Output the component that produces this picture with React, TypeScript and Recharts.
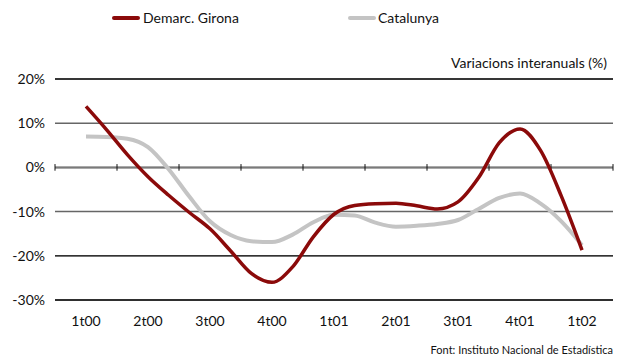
import React from "react";
import {
  LineChart,
  Line,
  XAxis,
  YAxis,
  CartesianGrid,
  ReferenceLine,
  Legend,
} from "recharts";

// Quarter labels along the bottom axis
const quarterLabels = ["1t00", "2t00", "3t00", "4t00", "1t01", "2t01", "3t01", "4t01", "1t02"];

// Monthly year-on-year change (%), from 1t00 to 1t02
const gironaValues = [
  13.8, 8.5, 2.9, -2.1, -6.3, -10.2, -13.9, -18.9, -24.0, -26.0, -22.5, -15.7, -10.6,
  -8.6, -8.2, -8.1, -8.7, -9.4, -7.8, -2.3, 5.6, 8.7, 3.8, -6.5, -18.7,
];
const catalunyaValues = [
  7.0, 6.9, 6.5, 4.6, -0.4, -6.6, -12.2, -15.3, -16.7, -16.9, -15.2, -12.4, -10.7,
  -10.9, -12.5, -13.4, -13.2, -12.8, -11.9, -9.4, -6.9, -5.9, -8.2, -12.2, -17.6,
];

const yTicks = [-30, -20, -10, 0, 10, 20];

// Each quarter spans 3 units on the x scale; points sit one month apart,
// starting in the middle of the first quarter.
const data = gironaValues.map((g, i) => ({
  t: 1.5 + i,
  girona: g,
  catalunya: catalunyaValues[i],
}));

const quarterCenters = quarterLabels.map((_, i) => 1.5 + 3 * i);
const quarterBounds = Array.from({ length: quarterLabels.length + 1 }, (_, i) => 3 * i);

const FONT = "Lato, 'Open Sans', sans-serif";
const RED = "#8B0A0A";
const GREY = "#C4C4C4";
const LEGEND_H = 36;
const X_AXIS_H = 30;

const LegendContent = () => (
  <div style={{ position: "relative", width: 623, height: LEGEND_H, fontFamily: FONT, fontSize: 14, color: "#111" }}>
    <div style={{ position: "absolute", left: 112, top: 16, width: 28, height: 4, background: RED, borderRadius: 2 }} />
    <div style={{ position: "absolute", left: 143, top: 9, lineHeight: "18px" }}>Demarc. Girona</div>
    <div style={{ position: "absolute", left: 348, top: 16, width: 28, height: 4, background: GREY, borderRadius: 2 }} />
    <div style={{ position: "absolute", left: 378, top: 9, lineHeight: "18px" }}>Catalunya</div>
  </div>
);

export default function App() {
  return (
    <div style={{ position: "absolute", left: 0, top: 0, width: 623, height: 358, background: "#fff" }}>
      <LineChart
        width={623}
        height={358}
        data={data}
        margin={{ top: 79 - LEGEND_H, right: 10, bottom: 58 - X_AXIS_H, left: 0 }}
      >
        <Legend
          verticalAlign="top"
          align="left"
          height={LEGEND_H}
          content={<LegendContent />}
          wrapperStyle={{ position: "absolute", top: 0, left: 0, width: 623, height: LEGEND_H }}
        />
        <CartesianGrid vertical={false} stroke="#666" strokeWidth={1.5} />
        <XAxis
          dataKey="t"
          type="number"
          domain={[0, 27]}
          ticks={quarterCenters}
          tickFormatter={(v: number) => quarterLabels[Math.round((v - 1.5) / 3)]}
          height={X_AXIS_H}
          axisLine={false}
          tickLine={false}
          tickSize={0}
          tickMargin={16}
          interval={0}
          tick={{ fill: "#111", fontSize: 14, fontFamily: FONT }}
        />
        <YAxis
          type="number"
          domain={[-30, 20]}
          ticks={yTicks}
          tickFormatter={(v: number) => `${v}%`}
          width={55}
          axisLine={false}
          tickLine={false}
          tickSize={0}
          tickMargin={10}
          interval={0}
          tick={{ fill: "#111", fontSize: 14, fontFamily: FONT }}
        />
        <ReferenceLine y={20} stroke="#1a1a1a" strokeWidth={1.5} />
        <ReferenceLine y={-20} stroke="#333" strokeWidth={1.5} />
        <ReferenceLine y={-30} stroke="#111" strokeWidth={1.5} />
        <ReferenceLine y={0} stroke="#7a7a7a" strokeWidth={2} />
        {quarterBounds.map((b) => (
          <ReferenceLine
            key={b}
            segment={[
              { x: b, y: -0.75 },
              { x: b, y: 0.75 },
            ]}
            stroke="#111"
            strokeWidth={1}
          />
        ))}
        <Line
          type="monotone"
          dataKey="catalunya"
          stroke={GREY}
          strokeWidth={4}
          dot={false}
          isAnimationActive={false}
        />
        <Line
          type="monotone"
          dataKey="girona"
          stroke={RED}
          strokeWidth={3.5}
          dot={false}
          isAnimationActive={false}
        />
      </LineChart>
      <div
        style={{
          position: "absolute",
          right: 16,
          top: 54,
          fontFamily: FONT,
          fontSize: 14,
          color: "#111",
          whiteSpace: "nowrap",
        }}
      >
        Variacions interanuals (%)
      </div>
      <div
        style={{
          position: "absolute",
          right: 10,
          top: 343,
          fontFamily: FONT,
          fontSize: 11,
          color: "#111",
          whiteSpace: "nowrap",
        }}
      >
        Font: Instituto Nacional de Estadística
      </div>
    </div>
  );
}
